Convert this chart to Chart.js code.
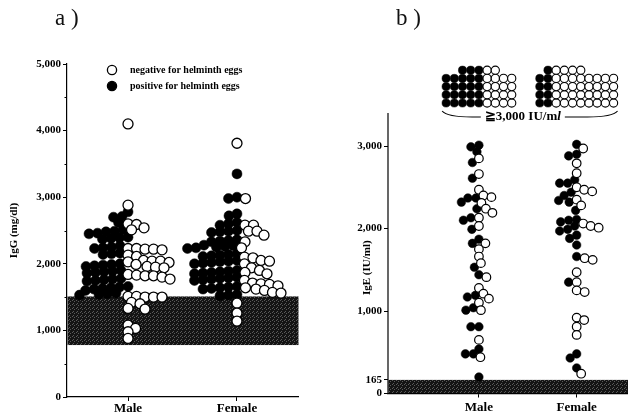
<!DOCTYPE html>
<html><head><meta charset="utf-8">
<script src="https://cdn.jsdelivr.net/npm/chart.js@4.4.1/dist/chart.umd.min.js"></script>
<style>
html,body{margin:0;padding:0;background:#fff;}
#wrap{position:relative;width:633px;height:414px;overflow:hidden;background:#fff;}
canvas{position:absolute;top:0;}
#ca{left:0;} #cb{left:320px;}
.ptitle{position:absolute;font-family:"Liberation Serif",serif;font-size:23px;color:#111;top:5px;}
</style></head><body>
<div id="wrap">
<canvas id="ca" width="320" height="414"></canvas>
<canvas id="cb" width="313" height="414"></canvas>
<div class="ptitle" style="left:55px">a )</div>
<div class="ptitle" style="left:396px">b )</div>
</div>
<script>
// ---------------- DATA ----------------
const categories = ['Male', 'Female'];
const legendLabels = ['negative for helminth eggs', 'positive for helminth eggs'];

// Panel a: IgG (mg/dl)
const igGMalePositive = [2780, 2710, 2700, 2620, 2510, 2490, 2480, 2460, 2450, 2400, 2390, 2380, 2370,
  2270, 2250, 2240, 2230, 2160, 2150, 2140, 2000, 1990, 1980, 1970, 1960, 1900, 1890, 1880, 1870, 1860,
  1780, 1770, 1760, 1750, 1740, 1660, 1650, 1640, 1630, 1620, 1600, 1560, 1550, 1540, 1530];
const igGMaleNegative = [4100, 2880, 2600, 2590, 2540, 2510, 2230, 2230, 2220, 2220, 2210, 2130, 2110,
  2050, 2040, 2040, 2030, 2020, 1990, 1960, 1950, 1940, 1840, 1830, 1820, 1820, 1800, 1770,
  1510, 1510, 1500, 1500, 1500, 1420, 1400, 1330, 1320, 1080, 1030, 980, 880];
const igGFemalePositive = [3350, 3000, 2980, 2750, 2720, 2620, 2600, 2580, 2500, 2490, 2480, 2470,
  2360, 2350, 2340, 2330, 2280, 2270, 2260, 2250, 2240, 2230, 2150, 2140, 2130, 2120, 2110,
  2050, 2040, 2030, 2020, 2010, 2000, 1900, 1890, 1880, 1870, 1860, 1850, 1800, 1790, 1780, 1770, 1760, 1750,
  1660, 1650, 1640, 1630, 1620, 1540, 1530, 1520];
const igGFemaleNegative = [3810, 2980, 2580, 2580, 2490, 2490, 2430, 2330, 2240, 2100, 2090, 2050, 2040,
  2000, 1940, 1900, 1870, 1850, 1750, 1710, 1700, 1690, 1670, 1640, 1620, 1600, 1570, 1560,
  1410, 1260, 1140];
const igGTickValues = [0, 500, 1000, 1500, 2000, 2500, 3000, 3500, 4000, 4500, 5000];
const igGTickLabels = ['0', '', '1,000', '', '2,000', '', '3,000', '', '4,000', '', '5,000'];
const igGReferenceBand = [780, 1510];
const igGTitle = 'IgG (mg/dl)';

// Panel b: IgE (IU/ml)
const igEMalePositive = [3010, 2990, 2930, 2800, 2610, 2370, 2370, 2320, 2240, 2130, 2100, 1990, 1870, 1820,
  1530, 1440, 1190, 1170, 1040, 1010, 810, 810, 540, 480, 480, 200];
const igEMaleNegative = [2850, 2660, 2470, 2400, 2380, 2310, 2240, 2190, 2130, 2030, 1820, 1750, 1660, 1580,
  1410, 1280, 1210, 1150, 1100, 1010, 650, 440];
const igEFemalePositive = [3020, 2900, 2880, 2590, 2550, 2550, 2440, 2400, 2340, 2320, 2220, 2110, 2100, 2080,
  2030, 1990, 1970, 1920, 1880, 1800, 1660, 1350, 480, 430, 310];
const igEFemaleNegative = [2970, 2790, 2670, 2500, 2470, 2450, 2350, 2280, 2060, 2030, 2010, 1640, 1620, 1470,
  1350, 1250, 1230, 920, 890, 810, 710, 240];
const igEHighPositiveCounts = [23, 9];   // subjects >= 3,000 IU/ml
const igEHighNegativeCounts = [18, 36];
const igETickValues = [0, 165, 1000, 2000, 3000];
const igETickLabels = ['0', '165', '1,000', '2,000', '3,000'];
const igEReferenceBand = [0, 165];
const igEAxisTop = 3400;
const igEHighLabel = '\u22673,000 IU/m';
const igETitle = 'IgE (IU/ml)';

// ---------------- STYLE / LAYOUT ----------------
const SERIF = "'Liberation Serif', 'Times New Roman', serif";
Chart.defaults.font.family = SERIF;
Chart.defaults.color = '#000';

function bandPattern(ctx) {
  const c = document.createElement('canvas'); c.width = 4; c.height = 4;
  const g = c.getContext('2d');
  g.fillStyle = '#141414'; g.fillRect(0, 0, 4, 4);
  g.fillStyle = '#5a5a5a';
  [[0, 0], [2, 1], [1, 3]].forEach(([x, y]) => g.fillRect(x, y, 1, 1));
  return ctx.createPattern(c, 'repeat');
}

function mkDs(values, sexIndex, status, r, bw, extra) {
  const filled = status === 'positive';
  return Object.assign({
    label: filled ? legendLabels[1] : legendLabels[0],
    sexIndex, status, side: filled ? -1 : 1,
    data: values.map(v => ({ x: sexIndex + 1, y: v })),
    pointRadius: r, pointHoverRadius: r,
    pointBackgroundColor: filled ? '#000' : '#fff',
    pointBorderColor: '#000', pointBorderWidth: filled ? 0.5 : bw,
    showLine: false, clip: false
  }, extra || {});
}

// one-sided beeswarm: positives to the left of the category, negatives to the right
function swarm(chart, cfg) {
  const xs = chart.scales.x, ys = chart.scales.y;
  categories.forEach((c, si) => {
    const pts = [];
    chart.data.datasets.forEach(ds => {
      if (ds.sexIndex !== si || ds.isGrid) return;
      ds.data.forEach((d, i) => pts.push({ ds, i, v: d.y, side: ds.side, status: ds.status }));
    });
    const first = cfg.first ? cfg.first[si] : null;
    pts.sort((a, b) => {
      if (first) {
        const pa = a.status === first ? 0 : 1, pb = b.status === first ? 0 : 1;
        if (pa !== pb) return pa - pb;
      }
      return b.v - a.v;
    });
    const cx = xs.getPixelForValue(si + 1);
    const placed = [];
    pts.forEach(p => {
      const py = ys.getPixelForValue(p.v);
      let px = cx;
      for (let off = 0; off < 300; off += 0.5) {
        px = cx + p.side * off;
        let ok = true;
        for (const q of placed) {
          const dx = (q.x - px) / cfg.gx, dy = (q.y - py) / cfg.gy;
          if (dx * dx + dy * dy < 1) { ok = false; break; }
        }
        if (ok) break;
      }
      placed.push({ x: px, y: py });
      p.ds.data[p.i] = { x: xs.getValueForPixel(px), y: p.v };
    });
  });
}

function ticksFrom(values) {
  return s => { s.ticks = values.map(v => ({ value: v })); };
}

// ---------------- PANEL A ----------------
const ctxA = document.getElementById('ca').getContext('2d');
const patA = bandPattern(ctxA);
const dsA = [
  mkDs(igGMaleNegative, 0, 'negative', 5, 1.3),
  mkDs(igGFemaleNegative, 1, 'negative', 5, 1.3),
  mkDs(igGMalePositive, 0, 'positive', 5, 1.3),
  mkDs(igGFemalePositive, 1, 'positive', 5, 1.3)
];
const pluginA = {
  id: 'panelA',
  beforeDatasetsDraw(chart) {
    const { ctx, chartArea: a, scales: { y } } = chart;
    const t = y.getPixelForValue(igGReferenceBand[1]), b = y.getPixelForValue(igGReferenceBand[0]);
    ctx.save(); ctx.fillStyle = patA; ctx.fillRect(a.left + 0.5, t, a.right - a.left, b - t); ctx.restore();
  },
  afterDraw(chart) {
    const { ctx, chartArea: a, scales: { y } } = chart;
    ctx.save();
    // short minor ticks
    ctx.strokeStyle = '#000'; ctx.lineWidth = 1;
    igGTickValues.forEach((v, i) => {
      if (igGTickLabels[i] !== '') return;
      const py = Math.round(y.getPixelForValue(v)) + 0.5;
      ctx.beginPath(); ctx.moveTo(a.left - 2.5, py); ctx.lineTo(a.left, py); ctx.stroke();
    });
    const lx = a.left + 45;
    [[a.top + 6, '#fff'], [a.top + 22, '#000']].forEach(([yy, fill], k) => {
      ctx.beginPath(); ctx.arc(lx, yy, 4.6, 0, Math.PI * 2);
      ctx.fillStyle = fill; ctx.fill();
      ctx.lineWidth = 1.3; ctx.strokeStyle = '#000'; ctx.stroke();
      ctx.fillStyle = '#000'; ctx.font = 'bold 10px ' + SERIF; ctx.textBaseline = 'middle'; ctx.textAlign = 'left';
      ctx.fillText(legendLabels[k], lx + 18, yy + 0.5);
    });
    ctx.restore();
  }
};
const chartA = new Chart(ctxA, {
  type: 'scatter',
  data: { datasets: dsA },
  plugins: [pluginA],
  options: {
    responsive: false, animation: false, devicePixelRatio: 1,
    layout: { padding: { top: 64, right: 22, left: 0, bottom: 0 } },
    plugins: { legend: { display: false }, tooltip: { enabled: false } },
    scales: {
      x: {
        type: 'linear', min: 0.44, max: 2.56,
        afterBuildTicks: s => { s.ticks = categories.map((c, i) => ({ value: i + 1 })); },
        afterFit: s => { s.height = 17; },
        ticks: { autoSkip: false, maxRotation: 0, padding: 0, font: { size: 13, weight: 'bold' }, callback: (v, i) => categories[i] },
        grid: { drawOnChartArea: false, drawTicks: true, tickLength: 4, tickColor: '#000' },
        border: { color: '#000', width: 1.2 }
      },
      y: {
        type: 'linear', min: 0, max: 5000,
        afterBuildTicks: ticksFrom(igGTickValues),
        afterFit: s => { s.width = 67; },
        ticks: { autoSkip: false, padding: 2, font: { size: 11, weight: 'bold' }, callback: (v, i) => igGTickLabels[i] },
        grid: {
          drawOnChartArea: false, drawTicks: true, tickLength: 4,
          tickColor: c => (igGTickLabels[c.index] === '' ? 'rgba(0,0,0,0)' : '#000')
        },
        border: { color: '#000', width: 1.2 },
        title: { display: true, text: igGTitle, font: { size: 11, weight: 'bold' }, padding: { top: 8, bottom: 0 } }
      }
    }
  }
});
swarm(chartA, { gx: 8.3, gy: 6.6, first: ['negative', 'positive'] });
chartA.update('none');

// ---------------- PANEL B ----------------
const ctxB = document.getElementById('cb').getContext('2d');
const patB = bandPattern(ctxB);
const gridInfo = {};
const dsB = [
  mkDs(igEMaleNegative, 0, 'negative', 4.3, 1.2),
  mkDs(igEFemaleNegative, 1, 'negative', 4.3, 1.2),
  mkDs(igEMalePositive, 0, 'positive', 4.3, 1.2),
  mkDs(igEFemalePositive, 1, 'positive', 4.3, 1.2),
  mkDs(new Array(igEHighNegativeCounts[0]).fill(3000), 0, 'negative', 4.1, 1.1, { isGrid: true }),
  mkDs(new Array(igEHighNegativeCounts[1]).fill(3000), 1, 'negative', 4.1, 1.1, { isGrid: true }),
  mkDs(new Array(igEHighPositiveCounts[0]).fill(3000), 0, 'positive', 4.1, 1.1, { isGrid: true }),
  mkDs(new Array(igEHighPositiveCounts[1]).fill(3000), 1, 'positive', 4.1, 1.1, { isGrid: true })
];

function layoutGrid(chart) {
  const xs = chart.scales.x, ys = chart.scales.y;
  const pitch = 8.2;
  const bottomY = ys.getPixelForValue(igEAxisTop) - 10;
  let minX = 1e9, maxX = -1e9;
  categories.forEach((c, si) => {
    const pos = chart.data.datasets.find(d => d.isGrid && d.sexIndex === si && d.status === 'positive');
    const neg = chart.data.datasets.find(d => d.isGrid && d.sexIndex === si && d.status === 'negative');
    const colsP = Math.ceil(pos.data.length / 5), colsN = Math.ceil(neg.data.length / 5);
    const total = colsP + colsN;
    const cx = xs.getPixelForValue(si + 1);
    const firstX = cx - (total - 1) / 2 * pitch;
    const place = (ds, cols, colX) => {
      const n = ds.data.length, base = Math.floor(n / cols), extra = n % cols;
      let idx = 0;
      for (let j = 0; j < cols; j++) {          // j = 0 is the column nearest the boundary
        const h = base + (j < extra ? 1 : 0);
        for (let k = 0; k < h; k++) {
          const px = colX(j), py = bottomY - k * pitch;
          ds.data[idx++] = { x: xs.getValueForPixel(px), y: ys.getValueForPixel(py) };
          minX = Math.min(minX, px); maxX = Math.max(maxX, px);
        }
      }
    };
    place(pos, colsP, j => firstX + (colsP - 1 - j) * pitch);
    place(neg, colsN, j => firstX + (colsP + j) * pitch);
  });
  gridInfo.minX = minX; gridInfo.maxX = maxX; gridInfo.bottomY = bottomY;
}

const pluginB = {
  id: 'panelB',
  beforeDatasetsDraw(chart) {
    const { ctx, chartArea: a, scales: { y } } = chart;
    const t = y.getPixelForValue(igEReferenceBand[1]), b = y.getPixelForValue(igEReferenceBand[0]);
    ctx.save(); ctx.fillStyle = patB; ctx.fillRect(a.left + 0.5, t, a.right - a.left, b - t - 0.5); ctx.restore();
  },
  afterDraw(chart) {
    const { ctx, chartArea: a, scales: { y } } = chart;
    ctx.save();
    // y axis line up to axis top
    ctx.strokeStyle = '#000'; ctx.lineWidth = 1.2;
    ctx.beginPath(); ctx.moveTo(a.left, y.getPixelForValue(0) + 0.6); ctx.lineTo(a.left, y.getPixelForValue(igEAxisTop)); ctx.stroke();
    // axis title, between the 1,000 and 2,000 labels
    const ty = (y.getPixelForValue(1000) + y.getPixelForValue(2000)) / 2 - 2;
    ctx.translate(a.left - 21, ty); ctx.rotate(-Math.PI / 2);
    ctx.font = 'bold 11px ' + SERIF; ctx.textAlign = 'center'; ctx.textBaseline = 'middle'; ctx.fillStyle = '#000';
    ctx.fillText(igETitle, 0, 0);
    ctx.restore();
    // brace + label
    ctx.save();
    const left = gridInfo.minX - 4, right = gridInfo.maxX + 4;
    const yTop = gridInfo.bottomY + 8, yLine = gridInfo.bottomY + 14;
    ctx.font = 'bold 13px ' + SERIF;
    const w1 = ctx.measureText(igEHighLabel).width;
    ctx.font = 'italic bold 13px ' + SERIF;
    const w2 = ctx.measureText('l').width;
    const tx = left + 0.46 * (right - left) - (w1 + w2) / 2;
    ctx.strokeStyle = '#000'; ctx.lineWidth = 1.1;
    ctx.beginPath(); ctx.moveTo(left, yTop); ctx.quadraticCurveTo(left + 5, yLine, left + 30, yLine); ctx.lineTo(tx - 4, yLine); ctx.stroke();
    ctx.beginPath(); ctx.moveTo(tx + w1 + w2 + 4, yLine); ctx.lineTo(right - 30, yLine); ctx.quadraticCurveTo(right - 5, yLine, right, yTop); ctx.stroke();
    ctx.fillStyle = '#000'; ctx.textBaseline = 'middle'; ctx.textAlign = 'left';
    ctx.font = 'bold 13px ' + SERIF; ctx.fillText(igEHighLabel, tx, yLine);
    ctx.font = 'italic bold 13px ' + SERIF; ctx.fillText('l', tx + w1, yLine);
    ctx.restore();
  }
};
const chartB = new Chart(ctxB, {
  type: 'scatter',
  data: { datasets: dsB },
  plugins: [pluginB],
  options: {
    responsive: false, animation: false, devicePixelRatio: 1,
    layout: { padding: { top: 63.5, right: 0, left: 0, bottom: 0 } },
    plugins: { legend: { display: false }, tooltip: { enabled: false } },
    scales: {
      x: {
        type: 'linear', min: 0.07, max: 2.52,
        afterBuildTicks: s => { s.ticks = categories.map((c, i) => ({ value: i + 1 })); },
        afterFit: s => { s.height = 20.5; },
        ticks: { autoSkip: false, maxRotation: 0, padding: 2, font: { size: 13, weight: 'bold' }, callback: (v, i) => categories[i] },
        grid: { drawOnChartArea: false, drawTicks: true, tickLength: 4, tickColor: '#000' },
        border: { color: '#000', width: 1.2 }
      },
      y: {
        type: 'linear', min: 0, max: 4000,
        afterBuildTicks: ticksFrom(igETickValues),
        afterFit: s => { s.width = 68; },
        ticks: { autoSkip: false, padding: 2, font: { size: 11, weight: 'bold' }, callback: (v, i) => igETickLabels[i] },
        grid: { drawOnChartArea: false, drawTicks: true, tickLength: 4, tickColor: '#000' },
        border: { display: false }
      }
    }
  }
});
swarm(chartB, { gx: 7.8, gy: 6.8, first: null });
layoutGrid(chartB);
chartB.update('none');
</script>
</body></html>
